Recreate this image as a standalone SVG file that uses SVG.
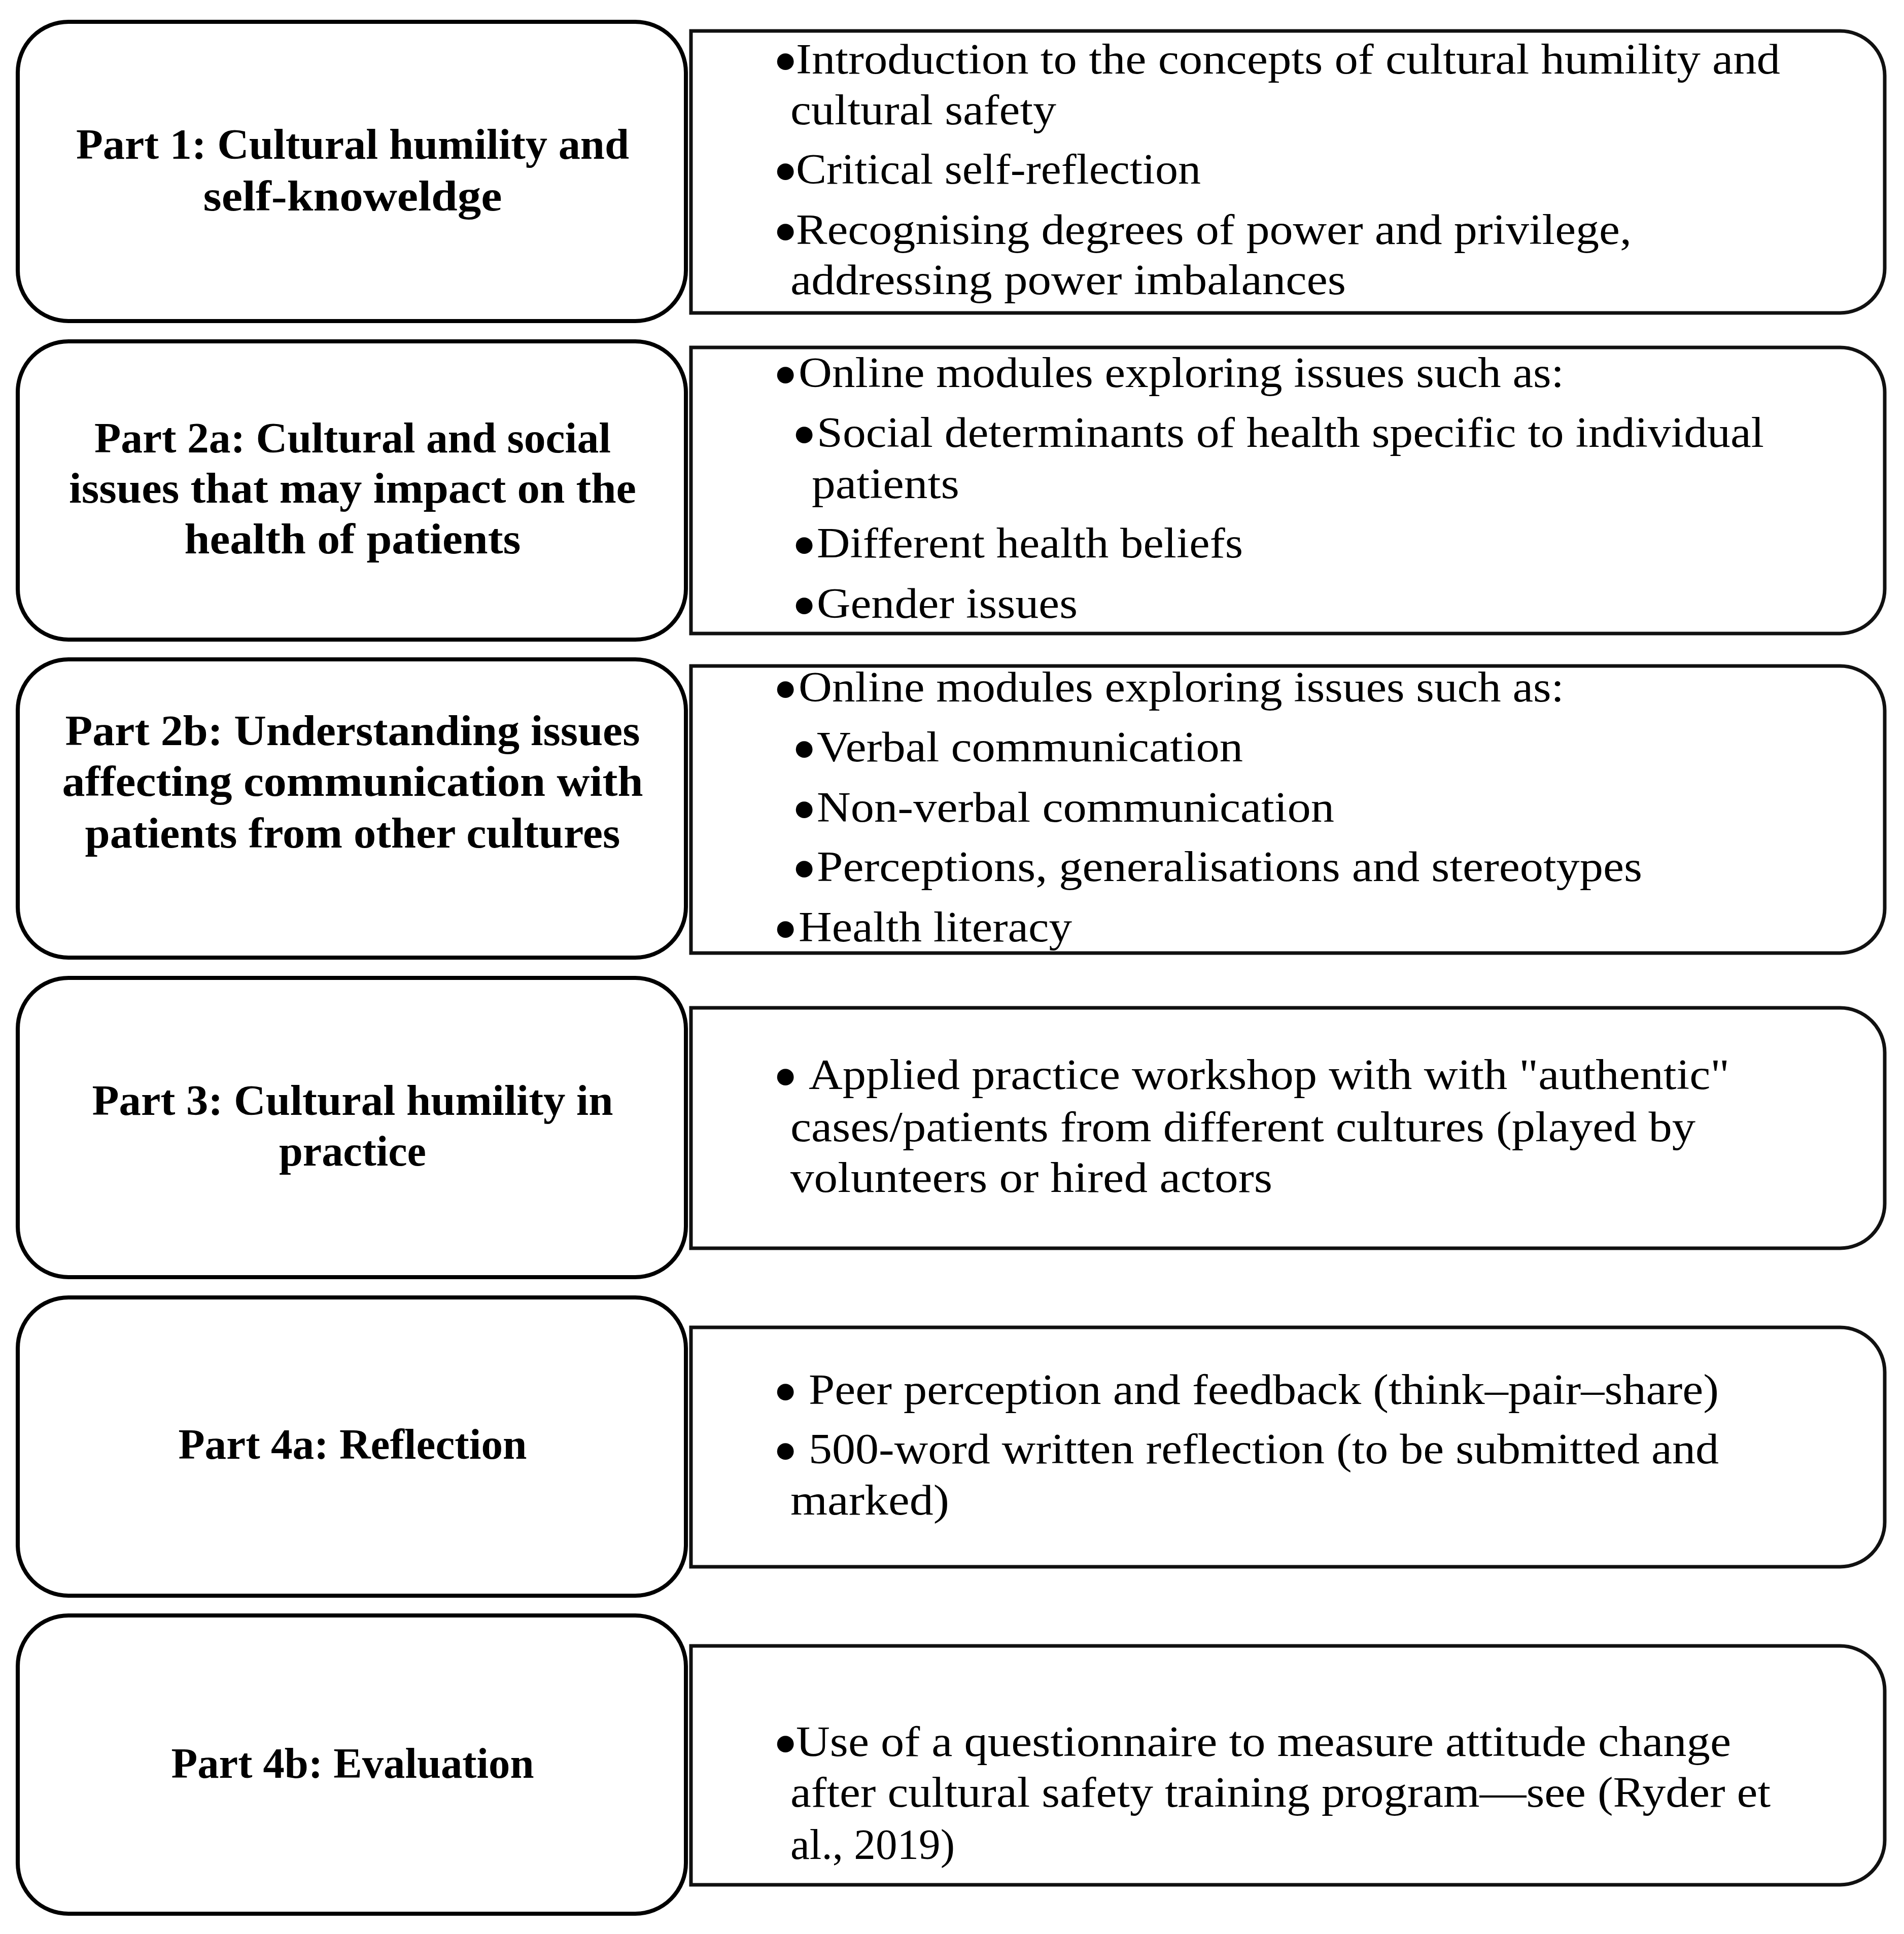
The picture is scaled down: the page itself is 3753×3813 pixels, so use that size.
<svg xmlns="http://www.w3.org/2000/svg" width="3753" height="3813" viewBox="0 0 3753 3813">
<style>
.lb{fill:#fff;stroke:#000;stroke-width:8}
.rb{fill:#fff;stroke:#111;stroke-width:7}
.h{font-family:"Liberation Serif","Times New Roman",serif;font-weight:bold;font-size:84px;fill:#000;text-anchor:middle}
.t{font-family:"Liberation Serif","Times New Roman",serif;font-size:84px;fill:#000}
.bu{font-size:138px}
</style>
<rect width="3753" height="3813" fill="#fff"/>
<g id="connectors"/>
<g id="part1">
<rect class="lb" x="35" y="43" width="1317" height="590" rx="100" ry="100"/>
<text class="h" x="695" y="313" textLength="1090" lengthAdjust="spacingAndGlyphs">Part 1: Cultural humility and</text>
<text class="h" x="695" y="415" textLength="589" lengthAdjust="spacingAndGlyphs">self-knoweldge</text>
</g>
<g id="part1-content">
<path class="rb" d="M1362 61 H3627 A88 88 0 0 1 3715 149 V529 A88 88 0 0 1 3627 617 H1362 Z"/>
<text class="t"><tspan class="bu" x="1524" y="167">•</tspan><tspan x="1569" y="145" textLength="1940" lengthAdjust="spacingAndGlyphs">Introduction to the concepts of cultural humility and</tspan></text>
<text class="t" x="1558" y="245" textLength="524" lengthAdjust="spacingAndGlyphs">cultural safety</text>
<text class="t"><tspan class="bu" x="1524" y="384">•</tspan><tspan x="1569" y="362" textLength="798" lengthAdjust="spacingAndGlyphs">Critical self-reflection</tspan></text>
<text class="t"><tspan class="bu" x="1524" y="503">•</tspan><tspan x="1569" y="481" textLength="1647" lengthAdjust="spacingAndGlyphs">Recognising degrees of power and privilege,</tspan></text>
<text class="t" x="1558" y="580" textLength="1095" lengthAdjust="spacingAndGlyphs">addressing power imbalances</text>
</g>
<g id="part2a">
<rect class="lb" x="35" y="673" width="1317" height="588" rx="100" ry="100"/>
<text class="h" x="695" y="892" textLength="1018" lengthAdjust="spacingAndGlyphs">Part 2a: Cultural and social</text>
<text class="h" x="695" y="991" textLength="1118" lengthAdjust="spacingAndGlyphs">issues that may impact on the</text>
<text class="h" x="695" y="1091" textLength="663" lengthAdjust="spacingAndGlyphs">health of patients</text>
</g>
<g id="part2a-content">
<path class="rb" d="M1362 685 H3627 A88 88 0 0 1 3715 773 V1161 A88 88 0 0 1 3627 1249 H1362 Z"/>
<text class="t"><tspan class="bu" x="1524" y="785">•</tspan><tspan x="1574" y="763" textLength="1509" lengthAdjust="spacingAndGlyphs">Online modules exploring issues such as:</tspan></text>
<text class="t"><tspan class="bu" x="1561" y="903">•</tspan><tspan x="1610" y="881" textLength="1867" lengthAdjust="spacingAndGlyphs">Social determinants of health specific to individual</tspan></text>
<text class="t" x="1600" y="982" textLength="291" lengthAdjust="spacingAndGlyphs">patients</text>
<text class="t"><tspan class="bu" x="1561" y="1121">•</tspan><tspan x="1610" y="1099" textLength="840" lengthAdjust="spacingAndGlyphs">Different health beliefs</tspan></text>
<text class="t"><tspan class="bu" x="1561" y="1240">•</tspan><tspan x="1610" y="1218" textLength="514" lengthAdjust="spacingAndGlyphs">Gender issues</tspan></text>
</g>
<g id="part2b">
<rect class="lb" x="35" y="1300" width="1317" height="588" rx="100" ry="100"/>
<text class="h" x="695" y="1469" textLength="1133" lengthAdjust="spacingAndGlyphs">Part 2b: Understanding issues</text>
<text class="h" x="695" y="1569" textLength="1145" lengthAdjust="spacingAndGlyphs">affecting communication with</text>
<text class="h" x="695" y="1671" textLength="1055" lengthAdjust="spacingAndGlyphs">patients from other cultures</text>
</g>
<g id="part2b-content">
<path class="rb" d="M1362 1313 H3627 A88 88 0 0 1 3715 1401 V1791 A88 88 0 0 1 3627 1879 H1362 Z"/>
<text class="t"><tspan class="bu" x="1524" y="1405">•</tspan><tspan x="1574" y="1383" textLength="1509" lengthAdjust="spacingAndGlyphs">Online modules exploring issues such as:</tspan></text>
<text class="t"><tspan class="bu" x="1561" y="1523">•</tspan><tspan x="1610" y="1501" textLength="840" lengthAdjust="spacingAndGlyphs">Verbal communication</tspan></text>
<text class="t"><tspan class="bu" x="1561" y="1642">•</tspan><tspan x="1610" y="1620" textLength="1020" lengthAdjust="spacingAndGlyphs">Non-verbal communication</tspan></text>
<text class="t"><tspan class="bu" x="1561" y="1759">•</tspan><tspan x="1610" y="1737" textLength="1627" lengthAdjust="spacingAndGlyphs">Perceptions, generalisations and stereotypes</tspan></text>
<text class="t"><tspan class="bu" x="1524" y="1878">•</tspan><tspan x="1574" y="1856" textLength="539" lengthAdjust="spacingAndGlyphs">Health literacy</tspan></text>
</g>
<g id="part3">
<rect class="lb" x="35" y="1928" width="1317" height="590" rx="100" ry="100"/>
<text class="h" x="695" y="2198" textLength="1027" lengthAdjust="spacingAndGlyphs">Part 3: Cultural humility in</text>
<text class="h" x="695" y="2298" textLength="290" lengthAdjust="spacingAndGlyphs">practice</text>
</g>
<g id="part3-content">
<path class="rb" d="M1362 1987 H3627 A88 88 0 0 1 3715 2075 V2373 A88 88 0 0 1 3627 2461 H1362 Z"/>
<text class="t"><tspan class="bu" x="1524" y="2169">•</tspan><tspan x="1594" y="2147" textLength="1815" lengthAdjust="spacingAndGlyphs">Applied practice workshop with with "authentic"</tspan></text>
<text class="t" x="1558" y="2250" textLength="1784" lengthAdjust="spacingAndGlyphs">cases/patients from different cultures (played by</text>
<text class="t" x="1558" y="2350" textLength="950" lengthAdjust="spacingAndGlyphs">volunteers or hired actors</text>
</g>
<g id="part4a">
<rect class="lb" x="35" y="2558" width="1317" height="588" rx="100" ry="100"/>
<text class="h" x="695" y="2876" textLength="687" lengthAdjust="spacingAndGlyphs">Part 4a: Reflection</text>
</g>
<g id="part4a-content">
<path class="rb" d="M1362 2617 H3627 A88 88 0 0 1 3715 2705 V3001 A88 88 0 0 1 3627 3089 H1362 Z"/>
<text class="t"><tspan class="bu" x="1524" y="2790">•</tspan><tspan x="1594" y="2768" textLength="1794" lengthAdjust="spacingAndGlyphs">Peer perception and feedback (think–pair–share)</tspan></text>
<text class="t"><tspan class="bu" x="1524" y="2907">•</tspan><tspan x="1594" y="2885" textLength="1794" lengthAdjust="spacingAndGlyphs">500-word written reflection (to be submitted and</tspan></text>
<text class="t" x="1558" y="2986" textLength="313" lengthAdjust="spacingAndGlyphs">marked)</text>
</g>
<g id="part4b">
<rect class="lb" x="35" y="3185" width="1317" height="588" rx="100" ry="100"/>
<text class="h" x="695" y="3505" textLength="715" lengthAdjust="spacingAndGlyphs">Part 4b: Evaluation</text>
</g>
<g id="part4b-content">
<path class="rb" d="M1362 3245 H3627 A88 88 0 0 1 3715 3333 V3628 A88 88 0 0 1 3627 3716 H1362 Z"/>
<text class="t"><tspan class="bu" x="1524" y="3484">•</tspan><tspan x="1569" y="3462" textLength="1843" lengthAdjust="spacingAndGlyphs">Use of a questionnaire to measure attitude change</tspan></text>
<text class="t" x="1558" y="3562" textLength="1932" lengthAdjust="spacingAndGlyphs">after cultural safety training program—see (Ryder et</text>
<text class="t" x="1558" y="3665" textLength="324" lengthAdjust="spacingAndGlyphs">al., 2019)</text>
</g>
</svg>
